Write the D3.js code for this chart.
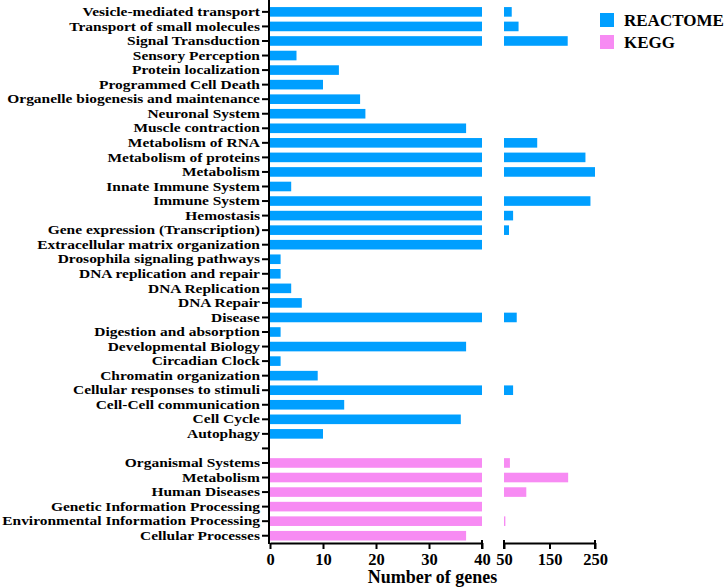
<!DOCTYPE html>
<html>
<head>
<meta charset="utf-8">
<script src="https://cdn.jsdelivr.net/npm/d3@7"></script>
<style>
  body { margin: 0; background: #fff; }
</style>
</head>
<body>
<div class="chart"></div>
<script>
// REACTOME pathways, top to bottom
const reactomeTerms = [
  "Vesicle-mediated transport", "Transport of small molecules", "Signal Transduction",
  "Sensory Perception", "Protein localization", "Programmed Cell Death",
  "Organelle biogenesis and maintenance", "Neuronal System", "Muscle contraction",
  "Metabolism of RNA", "Metabolism of proteins", "Metabolism", "Innate Immune System",
  "Immune System", "Hemostasis", "Gene expression (Transcription)",
  "Extracellular matrix organization", "Drosophila signaling pathways",
  "DNA replication and repair", "DNA Replication", "DNA Repair", "Disease",
  "Digestion and absorption", "Developmental Biology", "Circadian Clock",
  "Chromatin organization", "Cellular responses to stimuli", "Cell-Cell communication",
  "Cell Cycle", "Autophagy"
];
const reactomeCounts = [
  67, 82, 190, 5, 13, 10, 17, 18, 37, 123, 229, 250, 4, 240, 70, 61, 45, 2, 2, 4, 6,
  78, 2, 37, 2, 9, 70, 14, 36, 10
];

// KEGG categories
const keggTerms = [
  "Organismal Systems", "Metabolism", "Human Diseases", "Genetic Information Processing",
  "Environmental Information Processing", "Cellular Processes"
];
const keggCounts = [63, 191, 99, 45, 53, 37];

const seriesNames = ["REACTOME", "KEGG"];
const seriesColors = ["#009fff", "#f78bf3"];

const leftTicks = [0, 10, 20, 30, 40];
const rightTicks = [50, 150, 250];

const width = 726, height = 587;
const serif = "'Liberation Serif', 'Times New Roman', 'DejaVu Serif', serif";

// one row per term, blank row between the two groups
const rows = [];
reactomeTerms.forEach((t, i) => rows.push({ term: t, value: reactomeCounts[i], s: 0 }));
rows.push({ term: "", value: null, s: -1 });
keggTerms.forEach((t, i) => rows.push({ term: t, value: keggCounts[i], s: 1 }));

const svg = d3.select(".chart").append("svg")
  .attr("width", width)
  .attr("height", height);

const y = d3.scaleBand()
  .domain(d3.range(rows.length))
  .range([4.6, 543])
  .paddingInner(0.34)
  .paddingOuter(0.17);

// broken x axis: 0-40 and 50-250
const xL = d3.scaleLinear().domain([0, 40]).range([270, 482]);
const xR = d3.scaleLinear().domain([50, 250]).range([504, 595]);

const bars = svg.append("g");
rows.forEach((d, i) => {
  if (d.s < 0) return;
  bars.append("rect")
    .attr("x", xL(0))
    .attr("y", y(i))
    .attr("width", xL(Math.min(d.value, 40)) - xL(0))
    .attr("height", y.bandwidth())
    .attr("fill", seriesColors[d.s]);
  if (d.value > 50) {
    bars.append("rect")
      .attr("x", xR(50))
      .attr("y", y(i))
      .attr("width", xR(d.value) - xR(50))
      .attr("height", y.bandwidth())
      .attr("fill", seriesColors[d.s]);
  }
});

// y axis
const yAxis = svg.append("g")
  .attr("transform", `translate(${xL(0) - 1},0)`)
  .call(d3.axisLeft(y).tickSize(7).tickSizeOuter(0).tickFormat(i => rows[i].term))
  .call(g => g.select(".domain").remove());
yAxis.selectAll(".tick line").attr("stroke", "#000").attr("stroke-width", 2);
yAxis.selectAll(".tick text")
  .attr("x", -7.6)
  .attr("transform", "scale(1.19,1)")
  .style("font-family", serif)
  .style("font-weight", "bold")
  .style("font-size", "13px")
  .attr("fill", "#000");
svg.append("line")
  .attr("x1", xL(0) - 1).attr("x2", xL(0) - 1)
  .attr("y1", 0).attr("y2", 544)
  .attr("stroke", "#000").attr("stroke-width", 2);

// x axes
function bottomAxis(scale, ticks) {
  const g = svg.append("g")
    .attr("transform", "translate(0,543)")
    .call(d3.axisBottom(scale).tickValues(ticks).tickSize(6).tickSizeOuter(0));
  g.select(".domain").attr("stroke", "#000").attr("stroke-width", 2);
  g.selectAll(".tick line").attr("stroke", "#000").attr("stroke-width", 2);
  g.selectAll(".tick text")
    .attr("y", 10)
    .attr("fill", "#000")
    .style("font-family", serif)
    .style("font-weight", "bold")
    .style("font-size", "16.5px");
  return g;
}
bottomAxis(xL, leftTicks);
bottomAxis(xR, rightTicks);

// end caps at the axis break
svg.append("g")
  .selectAll("line")
  .data([xL(40), xR(50), xR(250)])
  .join("line")
  .attr("x1", d => d).attr("x2", d => d)
  .attr("y1", 540).attr("y2", 549)
  .attr("stroke", "#000").attr("stroke-width", 2);

svg.append("text")
  .attr("x", (xL(0) + xR(250)) / 2)
  .attr("y", 583)
  .attr("text-anchor", "middle")
  .style("font-family", serif)
  .style("font-weight", "bold")
  .style("font-size", "18px")
  .text("Number of genes");

// legend
const legend = svg.append("g").attr("transform", "translate(600,13)");
seriesNames.forEach((name, i) => {
  legend.append("rect")
    .attr("x", 0).attr("y", i * 22)
    .attr("width", 14).attr("height", 14)
    .attr("fill", seriesColors[i]);
  legend.append("text")
    .attr("x", 24).attr("y", i * 22 + 13)
    .style("font-family", serif)
    .style("font-weight", "bold")
    .style("font-size", "17px")
    .text(name);
});
</script>
</body>
</html>
